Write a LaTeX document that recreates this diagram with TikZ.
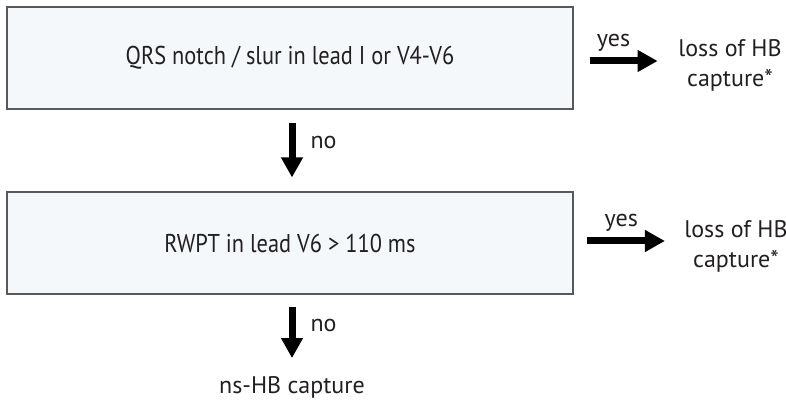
\documentclass[tikz,border=0pt]{standalone}
\usepackage{fontspec}
\setmainfont{PT Sans}
\newfontfamily\narrowsans{PT Sans}[FakeStretch=0.87]
\usetikzlibrary{arrows.meta,positioning}
\definecolor{boxfill}{HTML}{F4F8FB}
\definecolor{ink}{HTML}{231F20}

\begin{document}
\begin{tikzpicture}[x=0.75pt, y=-0.75pt, every node/.style={text=ink},
	crit/.style={draw=black!65, fill=boxfill, line width=0.8pt, minimum width=424.5pt, minimum height=76.5pt, font=\narrowsans\fontsize{19.3}{22}\selectfont},
	outcome/.style={align=center, font=\fontsize{18}{22.5}\selectfont},
	fatarrow/.style={-{Triangle[length=15pt,width=15.5pt]}, line width=5.25pt, draw=black}]

	\useasboundingbox (0,0) rectangle (786,406);

	\node[crit] (qrs) at (290,58) {QRS notch / slur in lead I or V4-V6};
	\node[crit] (rwpt) at (290,243) {RWPT in lead V6 > 110 ms};
	\node[outcome] (lossA) at (730,65) {loss of HB\\capture*};
	\node[outcome] (lossB) at (736,246) {loss of HB\\capture*};
	\node[outcome] (nshb) at (292,387) {ns-HB capture};

	\draw[fatarrow, shorten <=12pt, shorten >=12pt] ([yshift=-2.25pt]qrs.east) -- ([yshift=-2.25pt]qrs.east -| lossA.west) node[pos=0.4, above=1pt, outcome] {yes};
	\draw[fatarrow, shorten <=9.75pt, shorten >=10.5pt] ([xshift=1.5pt]qrs.south) -- ([xshift=1.5pt]rwpt.north) node[pos=0.4, right=8pt, outcome] {no};
	\draw[fatarrow, shorten <=10pt, shorten >=11pt] ([yshift=1.5pt]rwpt.east) -- ([yshift=1.5pt]rwpt.east -| lossB.west) node[pos=0.45, above=1pt, outcome] {yes};
	\draw[fatarrow, shorten <=9pt, shorten >=10pt] ([xshift=1.5pt]rwpt.south) -- (nshb.north) node[pos=0.4, right=8pt, outcome] {no};
\end{tikzpicture}
\end{document}
